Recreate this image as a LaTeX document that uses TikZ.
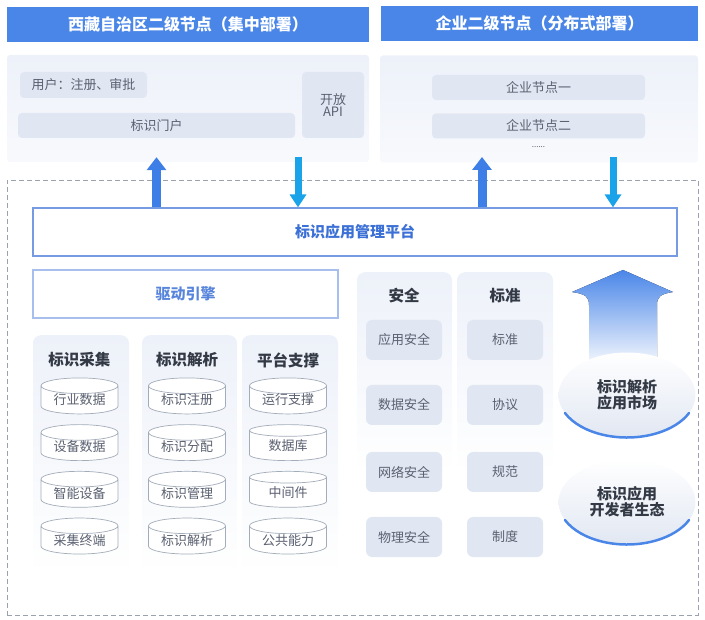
\documentclass[tikz,border=0pt]{standalone}
\usepackage{fontspec}
\setmainfont{Noto Sans CJK SC}
\usetikzlibrary{positioning,shapes.geometric,arrows.meta,calc}

\definecolor{titleblue}{HTML}{4A86E8}
\definecolor{arrowblue}{HTML}{3D7FE6}
\definecolor{arrowcyan}{HTML}{1AA3E8}
\definecolor{panelgray}{HTML}{EDF1F9}
\definecolor{boxgray}{HTML}{E1E7F2}
\definecolor{textgray}{HTML}{5A6070}
\definecolor{headtext}{HTML}{333A45}
\definecolor{platblue}{HTML}{3B70D6}
\definecolor{framegray}{HTML}{9AA2AD}
\definecolor{drumline}{HTML}{A3ACB9}
\newcommand{\pxfont}[1]{\fontsize{#1}{1.25em}\selectfont}

\begin{document}
\begin{tikzpicture}[x=1pt,y=-1pt]
\tikzset{%
	titlebar/.style = { rectangle, fill=titleblue, text=white, font=\bfseries\pxfont{16}, minimum height=35pt, inner sep=0pt },
	panel/.style = { rectangle, rounded corners=3pt, top color=panelgray, bottom color=panelgray!40, minimum height=107pt, inner sep=0pt },
	part/.style = { rectangle, rounded corners=4pt, fill=boxgray, text=textgray, font=\pxfont{13}, minimum height=25pt, inner sep=0pt },
	stack/.style = { rectangle, rounded corners=8pt, top color=panelgray, bottom color=white, inner sep=0pt },
	head/.style = { text=headtext, font=\bfseries\pxfont{15.5} },
	drum/.style = { cylinder, shape border rotate=90, aspect=0.3, draw=drumline, line width=0.7pt, fill=white, text=textgray, font=\pxfont{13}, minimum width=77pt, minimum height=36pt, inner sep=0pt },
	tile/.style = { rectangle, rounded corners=6pt, fill=boxgray, text=textgray, font=\pxfont{13}, minimum width=76pt, minimum height=40pt, inner sep=0pt },
	layer/.style = { rectangle, draw=platblue!70, line width=1.2pt, fill=white, text=platblue, font=\bfseries\pxfont{15}, minimum height=48pt, inner sep=0pt },
	disc/.style = { ellipse, top color=white, bottom color=boxgray, text=headtext, font=\bfseries\pxfont{15}, align=center, minimum width=137pt, minimum height=85pt, inner sep=0pt },
	uparrow/.style = { line width=9pt, draw=arrowblue, -{Triangle[length=13pt,width=19pt]} },
	downarrow/.style = { line width=7pt, draw=arrowcyan, -{Triangle[length=13pt,width=16pt]} }
}
\useasboundingbox (0,0) rectangle (705,620);

% top: the two second-level nodes
\node(TibetTitle)		[titlebar, minimum width=362pt] at (188,24.5)
								{西藏自治区二级节点（集中部署）};
\node(FirmTitle)		[titlebar, minimum width=317pt] at (539.5,23.5)
								{企业二级节点（分布式部署）};
\node(TibetPanel)		[panel, minimum width=362pt] at (188,108.5) {};
\node(FirmPanel)		[panel, minimum width=318pt] at (539,109) {};

\node(UserBox)			[part, minimum width=127pt, minimum height=26pt] at (83.5,85)
								{用户：注册、审批};
\node(Portal)			[part, minimum width=277pt] at (156.5,125.5)
								{标识门户};
\node(OpenApi)			[part, minimum width=62pt, minimum height=66pt, align=center] at (333,105)
								{开放\\API};
\node(FirmA)			[part, minimum width=213pt] at (538.5,87.5)
								{企业节点一};
\node(FirmB)			[part, minimum width=213pt, below=13pt of FirmA]
								{企业节点二};
\node(FirmDots)		[text=textgray, font=\pxfont{8}, below=4pt of FirmB]
								{......};

% dashed frame round the platform
\node(Frame)			[rectangle, draw=framegray, dashed, dash pattern=on 5pt off 3pt, line width=0.8pt, minimum width=691pt, minimum height=435pt, inner sep=0pt] at (352.5,397.5) {};

\node(Platform)		[layer, minimum width=644pt] at (355,232)
								{标识应用管理平台};
\node(Engine)			[layer, draw=platblue!45, text=platblue!85, minimum width=305pt] at (185.5,294)
								{驱动引擎};

% three stacks of the engine
\node(StackA)			[stack, minimum width=96pt, minimum height=240pt, anchor=north] at (81,335) {};
\node(StackB)			[stack, minimum width=95pt, minimum height=240pt, anchor=north] at (189.5,335) {};
\node(StackC)			[stack, minimum width=96pt, minimum height=240pt, anchor=north] at (290,335) {};

\node(HeadA)			[head] at (79.5,360) {标识采集};
\node(HeadB)			[head] at (187,360) {标识解析};
\node(HeadC)			[head] at (288,360) {平台支撑};

\node(DrumA1)			[drum] at (79.5,400) {行业数据};
\node(DrumA2)			[drum, below=10pt of DrumA1] {设备数据};
\node(DrumA3)			[drum, below=10pt of DrumA2] {智能设备};
\node(DrumA4)			[drum, below=10pt of DrumA3] {采集终端};

\node(DrumB1)			[drum] at (187,400) {标识注册};
\node(DrumB2)			[drum, below=10pt of DrumB1] {标识分配};
\node(DrumB3)			[drum, below=10pt of DrumB2] {标识管理};
\node(DrumB4)			[drum, below=10pt of DrumB3] {标识解析};

\node(DrumC1)			[drum] at (288,400) {运行支撑};
\node(DrumC2)			[drum, below=10pt of DrumC1] {数据库};
\node(DrumC3)			[drum, below=10pt of DrumC2] {中间件};
\node(DrumC4)			[drum, below=10pt of DrumC3] {公共能力};

% security and standards
\node(SafeStack)		[stack, minimum width=95pt, minimum height=200pt, anchor=north] at (404.5,272) {};
\node(NormStack)		[stack, minimum width=96pt, minimum height=200pt, anchor=north] at (505,272) {};
\node(SafeHead)		[head] at (404,296) {安全};
\node(NormHead)		[head] at (505,296) {标准};

\node(SafeA)			[tile] at (404,340) {应用安全};
\node(SafeB)			[tile] at (404,405) {数据安全};
\node(SafeC)			[tile] at (404,472) {网络安全};
\node(SafeD)			[tile] at (404,537) {物理安全};
\node(NormA)			[tile] at (505,340) {标准};
\node(NormB)			[tile] at (505,405) {协议};
\node(NormC)			[tile] at (505,472) {规范};
\node(NormD)			[tile] at (505,537) {制度};

% big arrow and the two discs
\fill[top color=titleblue, bottom color=white, shading angle=0]
	(623,270) -- (673,292) .. controls (660,294) and (657,297) .. (657,305) -- (657,370)
	-- (589,370) -- (589,305) .. controls (589,297) and (586,294) .. (572,292) -- cycle;

\node(Market)			[disc] at (627,395)
								{标识解析\\应用市场};
\node(Devs)				[disc] at (627,502)
								{标识应用\\开发者生态};
\draw[titleblue, line width=2.5pt, line cap=round]
	([shift={(-155:68.5pt and 42.5pt)}]Market.center) arc[start angle=-155, end angle=-25, x radius=68.5pt, y radius=42.5pt];
\draw[titleblue, line width=2.5pt, line cap=round]
	([shift={(-155:68.5pt and 42.5pt)}]Devs.center) arc[start angle=-155, end angle=-25, x radius=68.5pt, y radius=42.5pt];

% links between the levels
\coordinate(TibetIn)	at (298,157);
\coordinate(FirmOut)	at (482,157);
\coordinate(FirmIn)		at (613,157);

\draw [uparrow]		(Platform.north -| Portal.south) -- ([yshift=5pt]TibetPanel.south -| Portal.south);
\draw [downarrow]	(TibetIn) -- (Platform.north -| TibetIn);
\draw [uparrow]		(Platform.north -| FirmOut) -- (FirmOut);
\draw [downarrow]	(FirmIn) -- (Platform.north -| FirmIn);

\end{tikzpicture}
\end{document}
